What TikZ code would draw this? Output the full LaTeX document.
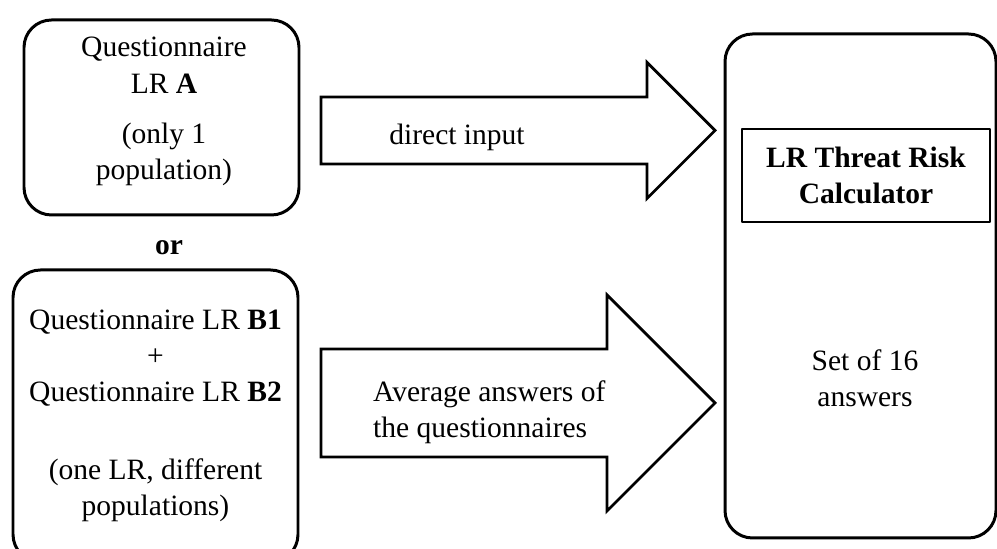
\documentclass[tikz,border=0pt]{standalone}
\usepackage{fontspec}
\setmainfont{Liberation Serif}
\begin{document}
\begin{tikzpicture}[font=\fontsize{16.8}{20.4}\selectfont, line join=round,
	qbox/.style={draw, line width=1.7pt, rounded corners=0.55cm, align=center, inner sep=0pt},
	bigarrow/.style={draw, line width=1.6pt, line join=miter}]
	\useasboundingbox (0,0) rectangle (19.94,10.98);
	% the two questionnaire variants
	\node[qbox, minimum width=5.5cm, minimum height=3.9cm] (qA) at (3.23,8.63) {};
	\node[align=center, font=\fontsize{16.8}{21}\selectfont] (qAtext) at ([shift={(0.05,0.12)}]qA.center)
		{Questionnaire\\LR \textbf{A}\\[0.26cm](only 1\\population)};
	\node (or) at (3.38,6.02) {\textbf{or}};
	\node[qbox, minimum width=5.7cm, minimum height=5.84cm] (qB) at (3.11,2.66)
		{Questionnaire LR \textbf{B1}\\+\\Questionnaire LR \textbf{B2}\\[0.85cm](one LR, different\\populations)};
	% calculator
	\node[qbox, minimum width=5.42cm, minimum height=10.08cm] (calc) at (17.21,5.26) {};
	\node[draw, line width=1.1pt, minimum width=4.96cm, minimum height=1.86cm, align=center] (tool) at (17.32,7.47)
		{\textbf{LR Threat Risk}\\\textbf{Calculator}};
	\node[align=center] (set) at (17.3,3.41) {Set of 16\\answers};
	% block arrows
	\path
	(6.42,8.37)coordinate(inA)
	(14.3,8.37)coordinate(outA)
	(6.42,2.92)coordinate(inB)
	(14.3,2.92)coordinate(outB)
	;
	\foreach \n/\b/\h in {A/0.67/1.36,B/1.08/2.16}
		\draw[bigarrow] (in\n)++(0,\b) -- ++(7.88-\h,0) -- ++(0,\h-\b) -- (out\n)
			-- ++(-\h,-\h) -- ++(0,\h-\b) -- ++(\h-7.88,0) -- cycle;
	\node (dir) at (9.14,8.24) {direct input};
	\node[align=left, anchor=west] (avg) at (7.34,2.73) {Average answers of\\the questionnaires};
\end{tikzpicture}
\end{document}
